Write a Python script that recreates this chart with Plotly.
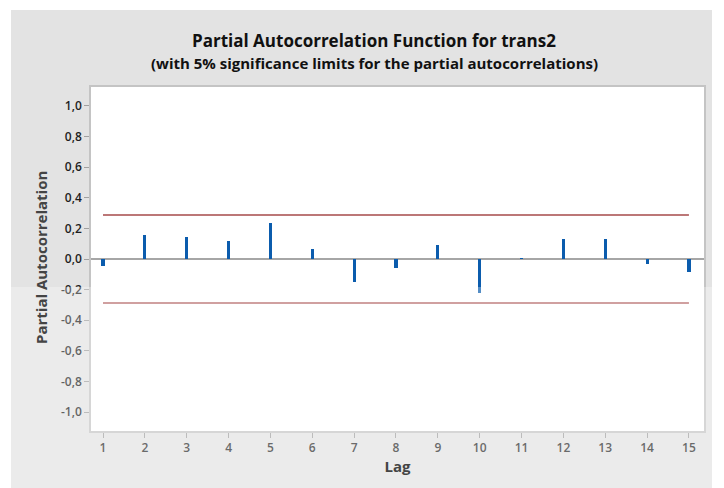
import plotly.graph_objects as go

lags = list(range(1, 16))
pacf = [-0.044, 0.154, 0.147, 0.120, 0.237, 0.067, -0.153, -0.059,
        0.093, -0.225, 0.004, 0.133, 0.133, -0.031, -0.087]
limit = 0.288
y_ticks = [1.0, 0.8, 0.6, 0.4, 0.2, 0.0, -0.2, -0.4, -0.6, -0.8, -1.0]
y_tick_text = ["1,0", "0,8", "0,6", "0,4", "0,2", "0,0", "-0,2", "-0,4", "-0,6", "-0,8", "-1,0"]

W, H = 724, 488
L, R, T, B = 91, 20, 87, 57
PW, PH = W - L - R, H - T - B
font = "Open Sans"

def px(x):
    return (x - L) / PW

def py(y):
    return (H - B - y) / PH

fig = go.Figure()
fig.add_trace(go.Bar(x=lags, y=pacf, width=0.075, marker=dict(color="#0b5cad", line=dict(width=0)),
                     showlegend=False))
fig.add_trace(go.Scatter(x=[lags[0], lags[-1]], y=[limit, limit], mode="lines",
                         line=dict(color="#a64a4a", width=1.5), showlegend=False))
fig.add_trace(go.Scatter(x=[lags[0], lags[-1]], y=[-limit, -limit], mode="lines",
                         line=dict(color="#a64a4a", width=1.5), showlegend=False))

fig.update_layout(
    width=W, height=H,
    margin=dict(l=L, r=R, t=T, b=B),
    paper_bgcolor="white",
    plot_bgcolor="white",
    font=dict(family=font, color="#3c3c3c", size=12),
    bargap=0,
    shapes=[
        dict(type="rect", xref="paper", yref="paper", layer="below",
             x0=px(11), x1=px(712), y0=py(H), y1=py(10),
             fillcolor="#e3e3e3", line=dict(width=0)),
        dict(type="rect", xref="paper", yref="paper", layer="below",
             x0=0, x1=1, y0=0, y1=1, fillcolor="white", line=dict(width=0)),
        dict(type="rect", xref="paper", yref="paper", layer="above",
             x0=px(0), x1=px(W), y0=py(H), y1=py(287),
             fillcolor="rgba(255,255,255,0.3)", line=dict(width=0)),
    ],
    annotations=[
        dict(text="Partial Autocorrelation Function for trans2", xref="paper", yref="paper",
             x=px(374), y=py(41), xanchor="center", yanchor="middle", showarrow=False,
             font=dict(size=17, color="#111111", family=font, weight=700)),
        dict(text="(with 5% significance limits for the partial autocorrelations)", xref="paper", yref="paper",
             x=px(374), y=py(63), xanchor="center", yanchor="middle", showarrow=False,
             font=dict(size=15, color="#111111", family=font, weight=700)),
        dict(text="Partial Autocorrelation", xref="paper", yref="paper", textangle=-90,
             x=px(41), y=py(258), xanchor="center", yanchor="middle", showarrow=False,
             font=dict(size=15, color="#444444", family=font, weight=700)),
    ],
)
fig.update_xaxes(range=[0.713, 15.36], tickmode="array", tickvals=lags,
                 ticks="outside", ticklen=5, tickcolor="#a0a0a0",
                 showline=True, linecolor="#c4c4c4", linewidth=1.5, mirror=True,
                 showgrid=False, zeroline=False,
                 title=dict(text="Lag", font=dict(size=15, color="#444444", weight=700), standoff=6),
                 tickfont=dict(size=12, color="#2a2a2a", weight=600))
fig.update_yaxes(range=[-1.124, 1.124], tickmode="array", tickvals=y_ticks, ticktext=y_tick_text,
                 ticks="outside", ticklen=5, tickcolor="#a0a0a0",
                 showline=True, linecolor="#c4c4c4", linewidth=1.5, mirror=True,
                 showgrid=False, zeroline=True, zerolinecolor="#a6a6a6", zerolinewidth=1.5,
                 tickfont=dict(size=12, color="#1e1e1e", weight=600))

fig.write_html("out.html", config={"displayModeBar": False},
               post_script="document.body.style.margin='0px';")
